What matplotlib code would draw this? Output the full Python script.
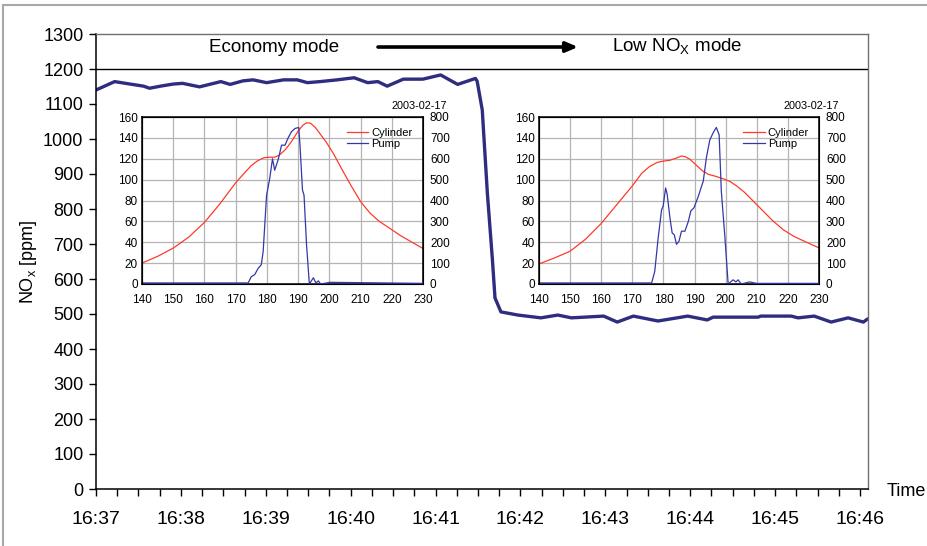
import matplotlib
matplotlib.use("Agg")
import matplotlib.pyplot as plt
from matplotlib.patches import Rectangle
from matplotlib.lines import Line2D

plt.rcParams['font.family'] = ['Liberation Sans', 'DejaVu Sans']

# ---------------- data ----------------
# main trace: minutes after 16:37, NOx [ppm]
main_t = [0.0, 0.22, 0.40, 0.56, 0.63, 0.76, 0.91, 1.02, 1.22, 1.47, 1.58, 1.73, 1.85,
          2.01, 2.21, 2.37, 2.49, 2.64, 2.84, 3.04, 3.20, 3.32, 3.43, 3.62, 3.85, 4.06,
          4.26, 4.47, 4.49, 4.55, 4.61, 4.67, 4.70, 4.77, 4.97, 5.24, 5.44, 5.60, 5.98,
          6.14, 6.33, 6.62, 6.97, 7.20, 7.27, 7.80, 7.83, 8.19, 8.27, 8.46, 8.66, 8.86,
          9.04, 9.09]
main_nox = [1140, 1164, 1157, 1151, 1145, 1151, 1157, 1159, 1149, 1164, 1156, 1166, 1169,
            1161, 1169, 1169, 1161, 1164, 1169, 1175, 1161, 1164, 1151, 1171, 1171, 1183,
            1156, 1173, 1165, 1083, 846, 654, 546, 506, 497, 489, 497, 489, 494,
            477, 494, 480, 494, 483, 491, 491, 494, 494, 489, 494, 477, 489,
            477, 486]
time_labels = ['16:37', '16:38', '16:39', '16:40', '16:41', '16:42', '16:43',
               '16:44', '16:45', '16:46']
y_ticks = [0, 100, 200, 300, 400, 500, 600, 700, 800, 900, 1000, 1100, 1200, 1300]

# inset 1 (Economy mode)
cyl1_x = [140, 145, 150, 155, 160, 165, 170, 173, 175, 177, 179, 181, 182.5, 184, 186,
          188, 190, 191.5, 192.7, 194, 195.5, 197, 199, 201.5, 204, 207, 210, 213, 216,
          219.5, 223, 226.5, 230]
cyl1_y = [20, 26.5, 34.4, 45, 59, 77, 97, 107, 113.5, 118, 121, 121.5, 121.5, 123.5, 129,
          137, 146.5, 152, 154.5, 154, 150, 144, 136, 124, 110, 94, 79, 68, 60,
          53, 46, 40, 34]
pump1_x = [140, 174, 175, 176.1, 177.2, 178.2, 178.8, 179.9, 180.9, 181.8, 182.5, 183.6,
           184.7, 185.8, 186.8, 187.9, 189, 190.2, 190.6, 191.4, 191.9, 192.7, 193.6,
           194.9, 195.7, 196.5, 197.2, 200.2, 230]
pump1_y = [5, 5, 35, 45, 75, 92, 155, 425, 505, 600, 545, 595,
           665, 665, 700, 730, 745, 750, 665, 450, 425, 188, 0,
           30, 5, 15, 0, 8, 3]

# inset 2 (Low NOx mode)
cyl2_x = [140, 145, 150, 155, 160, 165, 170, 173, 175.5, 178, 180, 182, 184, 185.8, 187,
          188.5, 190.5, 192.5, 194.5, 197, 199.5, 201.5, 203.5, 206, 209, 212, 215,
          218.5, 222, 226, 230]
cyl2_y = [19.2, 25, 31.4, 43, 58, 76, 94, 106, 112.5, 116.5, 117.8, 118.5, 120.5, 122.6,
          122, 119.5, 114, 108.5, 105, 103, 100.5, 98, 94, 88, 79, 70, 61,
          52, 45.5, 40, 34.6]
pump2_x = [140, 176.2, 177.2, 178.3, 179.4, 179.9, 180.7, 181.2, 182.1, 182.8, 183.5,
           184.2, 185, 185.8, 186.9, 188, 188.8, 189.8, 191.2, 192.8, 193.8, 194.9, 196,
           197, 197.9, 198.6, 199.7, 200.8, 202.4, 203.3, 204, 205, 207.7, 209.9, 230]
pump2_y = [5, 5, 60, 220, 355, 373, 460, 430, 315, 245, 235,
           190, 205, 253, 253, 300, 350, 365, 420, 493, 605, 690, 725,
           750, 715, 445, 235, 0, 20, 10, 20, 0, 10, 3, 3]

inset_x_ticks = [140, 150, 160, 170, 180, 190, 200, 210, 220, 230]
inset_left_ticks = [0, 20, 40, 60, 80, 100, 120, 140, 160]
inset_right_ticks = [0, 100, 200, 300, 400, 500, 600, 700, 800]
date_label = '2003-02-17'

# ---------------- figure ----------------
W, H = 928, 546
fig = plt.figure(figsize=(W / 100, H / 100), dpi=100)

def frac_box(x0, x1, y0, y1):
    return [x0 / W, 1 - y1 / H, (x1 - x0) / W, (y1 - y0) / H]

# outer grey frame
fig.patches.append(Rectangle((3 / W, -0.1), 1.2, (H - 5) / H + 0.1,
                             transform=fig.transFigure, fill=False,
                             edgecolor='#a8a8a8', lw=1.5))

ax = fig.add_axes(frac_box(96, 868, 34, 489))
ax.plot(main_t, main_nox, color='#2e2d7f', lw=2.4, solid_capstyle='round',
        solid_joinstyle='round')
ax.set_xlim(0, 9.094)
ax.set_ylim(0, 1300)
ax.set_yticks(y_ticks)
ax.set_yticklabels([str(v) for v in y_ticks], fontsize=13)
ax.set_xticks(range(len(time_labels)))
ax.set_xticklabels(time_labels, fontsize=14)
ax.set_xticks([i * 0.25 for i in range(37)], minor=True)
ax.tick_params(axis='x', which='both', direction='out', length=5, width=1, pad=11)
ax.tick_params(axis='y', direction='out', length=5, width=1, pad=4)
for s in ['left', 'bottom']:
    ax.spines[s].set_color('black')
    ax.spines[s].set_linewidth(1.1)
for s in ['top', 'right']:
    ax.spines[s].set_color('#707070')
    ax.spines[s].set_linewidth(1.0)
ax.axhline(1200, color='black', lw=1.0)

ax.set_ylabel('NO$_\\mathregular{x}$ [ppm]', fontsize=13, labelpad=2)
ax.yaxis.set_label_coords(-0.074, 0.5)
fig.text(887 / W, 1 - 491 / H, 'Time', fontsize=13, ha='left', va='center')

ax.text(0.2306, 0.9714, 'Economy mode', transform=ax.transAxes, fontsize=13.5,
        ha='center', va='center')
ax.text(0.7526, 0.9714, 'Low NO$_\\mathregular{X}$ mode', transform=ax.transAxes,
        fontsize=13.5, ha='center', va='center')
ax.annotate('', xy=(0.6244, 0.9714), xytext=(0.3653, 0.9714),
            xycoords='axes fraction',
            arrowprops=dict(arrowstyle='-|>,head_length=0.7,head_width=0.3',
                            color='black', lw=2.6, shrinkA=0, shrinkB=0))

# ---------------- insets ----------------
def make_inset(box, cx, cy, px, py, date_right_px):
    a = fig.add_axes(box)
    a.set_facecolor('white')
    a.plot(cx, cy, color='#ff3a2a', lw=0.9)
    a.set_xlim(140, 230)
    a.set_ylim(0, 160)
    a.set_xticks(inset_x_ticks)
    a.set_yticks(inset_left_ticks)
    a.grid(True, color='#b4b4b4', lw=0.9)
    a.set_axisbelow(True)
    a.tick_params(length=0, labelsize=8.5)
    a.tick_params(axis='x', pad=7)
    a.tick_params(axis='y', pad=3)
    for s in a.spines.values():
        s.set_color('black')
        s.set_linewidth(1.1)
    b = a.twinx()
    b.plot(px, py, color='#3438a8', lw=0.9)
    b.set_ylim(0, 800)
    b.set_yticks(inset_right_ticks)
    b.tick_params(length=0, labelsize=8.5, pad=5)
    handles = [Line2D([], [], color='#ff3a2a', lw=0.9),
               Line2D([], [], color='#3438a8', lw=0.9)]
    b.legend(handles, ['Cylinder', 'Pump'], loc='upper left',
             bbox_to_anchor=(0.73, 0.935), frameon=False, fontsize=8,
             handlelength=1.9, handletextpad=0.3, borderpad=0,
             borderaxespad=0, labelspacing=0.1)
    fig.text(date_right_px / W, 1 - 106 / H, date_label, fontsize=7.8,
             ha='right', va='center')
    return a, b

make_inset(frac_box(142, 423, 117, 284), cyl1_x, cyl1_y, pump1_x, pump1_y, 447)
make_inset(frac_box(539, 819, 117, 284), cyl2_x, cyl2_y, pump2_x, pump2_y, 839)

fig.savefig('out.png', dpi=100)
